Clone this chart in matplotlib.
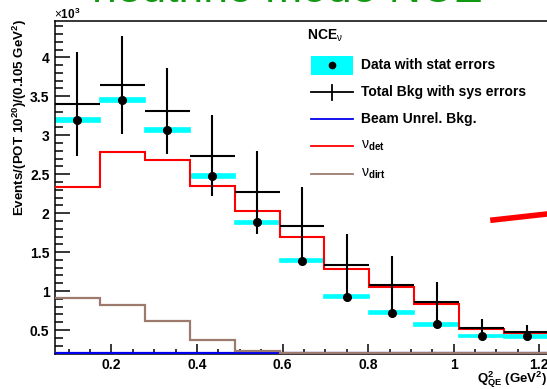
import numpy as np
import matplotlib
matplotlib.use('Agg')
import matplotlib.pyplot as plt
from matplotlib.lines import Line2D
from matplotlib.patches import Rectangle

plt.rcParams['font.family'] = ['Liberation Sans', 'DejaVu Sans']
plt.rcParams['mathtext.fontset'] = 'custom'
plt.rcParams['mathtext.rm'] = 'Liberation Sans'
plt.rcParams['mathtext.bf'] = 'Liberation Sans:bold'
plt.rcParams['mathtext.it'] = 'Liberation Sans:italic'

# bin edges in Q2_QE (GeV^2), width 0.105
edges = [0.068, 0.173, 0.278, 0.383, 0.488, 0.593, 0.698, 0.803, 0.908, 1.013, 1.118, 1.223]
# values in units of 10^3
data = [3.196, 3.456, 3.07, 2.48, 1.88, 1.39, 0.93, 0.72, 0.573, 0.423, 0.42]
stat = [0.028, 0.026, 0.025, 0.024, 0.022, 0.021, 0.02, 0.019, 0.018, 0.017, 0.017]
bkg = [3.40, 3.645, 3.31, 2.735, 2.265, 1.837, 1.337, 1.08, 0.854, 0.52, 0.478]
bkg_err = [0.67, 0.63, 0.55, 0.52, 0.53, 0.50, 0.40, 0.37, 0.256, 0.12, 0.08]
nu_det = [2.34, 2.78, 2.68, 2.35, 2.03, 1.70, 1.28, 1.046, 0.833, 0.51, 0.466]
nu_dirt = [0.905, 0.815, 0.61, 0.37, 0.23, 0.2, 0.2, 0.2, 0.2, 0.2, 0.2]
beam_unrel = [0.2, 0.2, 0.2, 0.2, 0.2, 0.2, 0.2, 0.2, 0.2, 0.2, 0.2]

e = np.array(edges)
centers = (e[:-1] + e[1:]) / 2
widths = np.diff(e)

fig = plt.figure(figsize=(5.47, 3.89), dpi=100)
W, H = 547, 389
ax = fig.add_axes([55 / W, 35.3 / H, 527 / W, 333 / H])
ax.set_xlim(0.068, 1.3)
ax.set_ylim(0.196, 4.47)

# data with stat errors: cyan boxes + black dots
ax.bar(centers, 2 * np.array(stat), width=widths, bottom=np.array(data) - np.array(stat),
       color='#00ffff', edgecolor='#00ffff', linewidth=1.2, zorder=2)
ax.stairs(beam_unrel, edges, baseline=None, color='#0000ee', linewidth=1.6, zorder=3)
ax.stairs(nu_dirt, edges, baseline=None, color='#9c7b6e', linewidth=1.6, zorder=3)
ax.stairs(nu_det, edges, baseline=None, color='#ff0000', linewidth=1.5, zorder=3)
# total bkg with sys errors
ax.hlines(bkg, e[:-1], e[1:], color='black', linewidth=1.5, zorder=4)
ax.vlines(centers, np.array(bkg) - np.array(bkg_err), np.array(bkg) + np.array(bkg_err),
          color='black', linewidth=1.5, zorder=4)
ax.plot(centers, data, 'o', color='black', markersize=5.5, zorder=5)

ax.spines['right'].set_visible(False)
for s in ['left', 'bottom', 'top']:
    ax.spines[s].set_linewidth(1.1)
ax.set_xticks([0.2, 0.4, 0.6, 0.8, 1.0, 1.2])
ax.set_xticklabels(['0.2', '0.4', '0.6', '0.8', '1', '1.2'])
ax.set_xticks(np.arange(0.1, 1.3, 0.05), minor=True)
ax.set_yticks([0.5, 1, 1.5, 2, 2.5, 3, 3.5, 4])
ax.set_yticklabels(['0.5', '1', '1.5', '2', '2.5', '3', '3.5', '4'])
ax.set_yticks(np.arange(0.2, 4.45, 0.1), minor=True)
ax.tick_params(axis='y', which='major', direction='in', length=11, width=1.1, pad=4)
ax.tick_params(axis='y', which='minor', direction='in', length=5.5, width=1.1)
ax.tick_params(axis='x', which='major', direction='in', length=7.5, width=1.1, pad=3)
ax.tick_params(axis='x', which='minor', direction='in', length=3.8, width=1.1)
for lab in ax.get_xticklabels() + ax.get_yticklabels():
    lab.set_fontweight('bold')
    lab.set_fontsize(10)

# axis titles
fig.text(547 / W, 1 - 380 / H, r'$\mathbf{Q^2_{QE}}$ $\mathbf{(GeV^2)}$', ha='right', va='center',
         fontsize=9.5, fontweight='bold')
fig.text(20 / W, 1 - 117 / H, r'Events/(POT 10$^{\mathbf{20}}$)/(0.105 GeV$^{\mathbf{2}}$)',
         rotation=90, ha='center', va='center', fontsize=9.6, fontweight='bold')
fig.text(54 / W, 1 - 14 / H, r'$\times$10$^{\mathbf{3}}$', ha='left', va='center',
         fontsize=8.5, fontweight='bold')

# cut-off title
fig.text(287 / W, 1 - 1.5 / H, 'neutrino mode NCE', ha='center', va='baseline',
         fontsize=32, color='#129912')

# legend
def fy(p):
    return 1 - p / H

fig.text(307 / W, fy(36), 'NCE' + r'$_{\mathrm{\nu}}$', ha='left', va='center', fontsize=10,
         fontweight='bold')
fig.add_artist(Rectangle((311 / W, fy(75)), 42 / W, 19.5 / H, transform=fig.transFigure,
                         facecolor='#00ffff', edgecolor='none'))
fig.add_artist(Line2D([332 / W], [fy(65.3)], marker='o', color='black', markersize=4.5,
                      transform=fig.transFigure))
fig.add_artist(Line2D([311 / W, 353 / W], [fy(92)] * 2, color='black', linewidth=1.3,
                      transform=fig.transFigure))
fig.add_artist(Line2D([332 / W, 332 / W], [fy(85), fy(100)], color='black', linewidth=1.3,
                      transform=fig.transFigure))
fig.add_artist(Line2D([311 / W, 353 / W], [fy(119)] * 2, color='#0000ee', linewidth=1.3,
                      transform=fig.transFigure))
fig.add_artist(Line2D([311 / W, 353 / W], [fy(146)] * 2, color='#ff0000', linewidth=1.3,
                      transform=fig.transFigure))
fig.add_artist(Line2D([311 / W, 353 / W], [fy(173.5)] * 2, color='#9c7b6e', linewidth=1.3,
                      transform=fig.transFigure))
labels = ['Data with stat errors', 'Total Bkg with sys errors', 'Beam Unrel. Bkg.',
          r'$\mathrm{\nu}_{\mathbf{det}}$', r'$\mathrm{\nu}_{\mathbf{dirt}}$']
ys = [65, 92, 119, 146, 173.5]
for t, y in zip(labels, ys):
    fig.text(361 / W, fy(y), t, ha='left', va='center', fontsize=10, fontweight='bold')

# fragment of a red line at right edge
fig.add_artist(Line2D([493 / W, 547 / W], [fy(220), fy(214)], color='#ff0000', linewidth=4,
                      transform=fig.transFigure))

fig.savefig('out.png', dpi=100)
